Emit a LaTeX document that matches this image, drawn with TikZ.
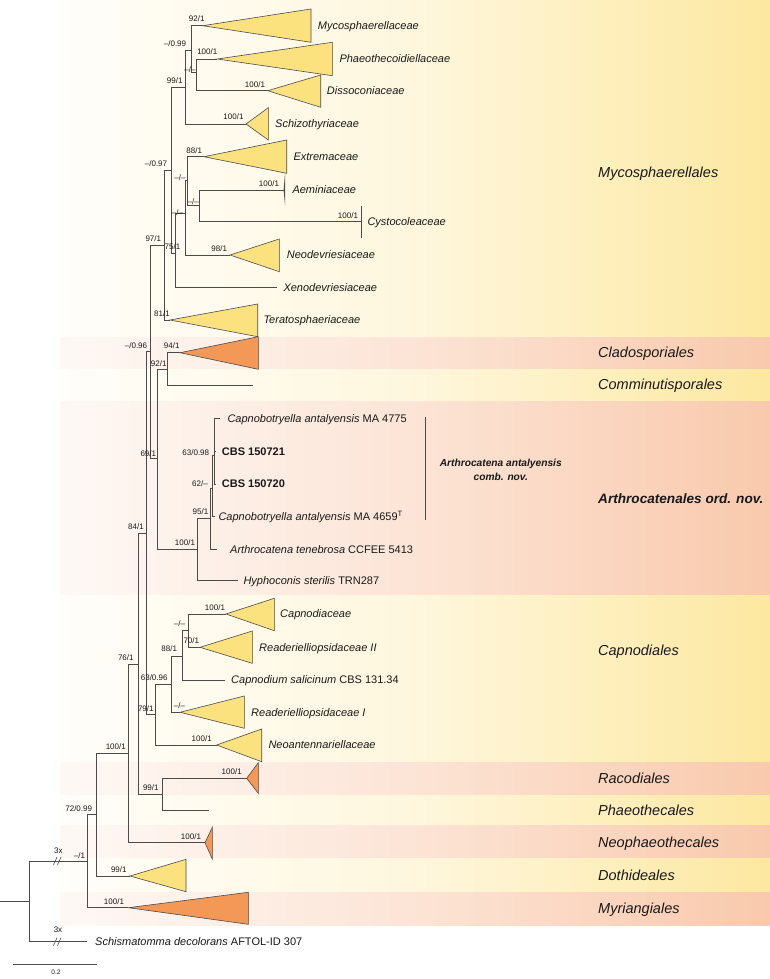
\documentclass[tikz,border=0pt]{standalone}
\usepackage{fontspec}
\setmainfont{Liberation Sans}
\definecolor{yel}{RGB}{253,232,160}
\definecolor{sal}{RGB}{249,201,172}
\definecolor{tyel}{RGB}{252,226,126}
\definecolor{torg}{RGB}{244,152,88}
\definecolor{ln}{RGB}{75,75,75}
\definecolor{txt}{RGB}{25,25,25}
\begin{document}
\begin{tikzpicture}[x=1pt,y=-1pt,
 br/.style={draw=ln, line width=0.8pt},
 ytri/.style={draw=ln, line width=0.6pt, fill=tyel, line join=miter},
 otri/.style={draw=ln, line width=0.6pt, fill=torg, line join=miter},
 leaf/.style={anchor=west, inner sep=0pt, text=txt, font=\fontsize{11}{13}\selectfont, text height=7.9pt, text depth=0pt},
 sup/.style={inner sep=0pt, text=txt, font=\fontsize{8}{9}\selectfont, text height=5.8pt, text depth=0pt},
 ord/.style={anchor=west, inner sep=0pt, text=txt, font=\fontsize{14.5}{16}\selectfont\itshape, text height=10.4pt, text depth=0pt},
 yband/.style={left color=yel!6, right color=yel, middle color=yel!35},
 sband/.style={left color=sal!12, right color=sal, middle color=sal!50}]
\useasboundingbox (0,0) rectangle (770,979);
\fill[white] (0,0) rectangle (770,979);
% background bands
\shade[yband] (60,0) rectangle (770,337);
\shade[sband] (60,337) rectangle (770,369);
\shade[yband] (60,369) rectangle (770,401);
\shade[sband] (60,401) rectangle (770,595);
\shade[yband] (60,595) rectangle (770,762);
\shade[sband] (60,762) rectangle (770,795);
\shade[yband] (60,795) rectangle (770,825);
\shade[sband] (60,825) rectangle (770,858);
\shade[yband] (60,858) rectangle (770,892);
\shade[sband] (60,892) rectangle (770,925);

% tree node coordinates (x of node, y where its stem attaches)
\coordinate (root0) at (0,901);
\coordinate (root) at (29.3,901);
\coordinate (nm1) at (87.7,861);
\coordinate (schis) at (87.3,941.7);
\coordinate (n72) at (96.7,814.3);
\coordinate (myri) at (128.3,907.7);
\coordinate (n100b) at (128.3,753.3);
\coordinate (doth) at (130,876);
\coordinate (n76) at (138,664.3);
\coordinate (neoph) at (205,842.7);
\coordinate (n84) at (146.7,533.3);
\coordinate (n99b) at (162.5,794.3);
\coordinate (racod) at (246.7,778.3);
\coordinate (phaeoth) at (209.3,810);
\coordinate (n096) at (150.7,351.7);
\coordinate (n79) at (155,714.3);
\coordinate (n63b) at (171,684);
\coordinate (neoant) at (216.7,745);
\coordinate (n88b) at (182.7,656);
\coordinate (readI) at (180,712.3);
\coordinate (ncap) at (188.3,630.7);
\coordinate (capsal) at (225,680);
\coordinate (capnod) at (226,614);
\coordinate (readII) at (200,647.3);
\coordinate (n97) at (164.3,245.7);
\coordinate (n69) at (157.5,458.3);
\coordinate (n92) at (167.7,369.3);
\coordinate (n100a) at (197.7,549.3);
\coordinate (clado) at (180,352.7);
\coordinate (commin) at (252.7,385);
\coordinate (n95) at (210.5,518.3);
\coordinate (hypho) at (238.3,580.7);
\coordinate (n62) at (212,488);
\coordinate (atene) at (217.3,549.3);
\coordinate (n63a) at (214,455);
\coordinate (ma4659) at (215,516.7);
\coordinate (ma4775) at (220,418.3);
\coordinate (cbsa) at (216,451.7);
\coordinate (cbsb) at (216,484);
\coordinate (n097) at (171,170);
\coordinate (terato) at (170,320);
\coordinate (n99a) at (185,87);
\coordinate (n75) at (175.7,253);
\coordinate (n099) at (191.7,50.7);
\coordinate (schizo) at (246,124);
\coordinate (myco) at (202.7,25.7);
\coordinate (npd) at (196,72);
\coordinate (phaeo) at (217.3,59);
\coordinate (disso) at (267.7,90.7);
\coordinate (nen) at (185,213.3);
\coordinate (xeno) at (276.7,287.7);
\coordinate (ne) at (187.3,180);
\coordinate (neodev) at (230,255);
\coordinate (extrem) at (204,156.7);
\coordinate (nac) at (199.3,205);
\coordinate (aemin) at (284.3,190);
\coordinate (cysto) at (361,221.7);

% branches
\draw[br] (root0) -- (root);
\draw[br] (root) |- (nm1);
\draw[br] (root) |- (schis);
\draw[br] (nm1) |- (n72);
\draw[br] (nm1) |- (myri);
\draw[br] (n72) |- (n100b);
\draw[br] (n72) |- (doth);
\draw[br] (n100b) |- (n76);
\draw[br] (n100b) |- (neoph);
\draw[br] (n76) |- (n84);
\draw[br] (n76) |- (n99b);
\draw[br] (n99b) |- (racod);
\draw[br] (n99b) |- (phaeoth);
\draw[br] (n84) |- (n096);
\draw[br] (n84) |- (n79);
\draw[br] (n79) |- (n63b);
\draw[br] (n79) |- (neoant);
\draw[br] (n63b) |- (n88b);
\draw[br] (n63b) |- (readI);
\draw[br] (n88b) |- (ncap);
\draw[br] (n88b) |- (capsal);
\draw[br] (ncap) |- (capnod);
\draw[br] (ncap) |- (readII);
\draw[br] (n096) |- (n97);
\draw[br] (n096) |- (n69);
\draw[br] (n69) |- (n92);
\draw[br] (n69) |- (n100a);
\draw[br] (n92) |- (clado);
\draw[br] (n92) |- (commin);
\draw[br] (n100a) |- (n95);
\draw[br] (n100a) |- (hypho);
\draw[br] (n95) |- (n62);
\draw[br] (n95) |- (atene);
\draw[br] (n62) |- (n63a);
\draw[br] (n62) |- (ma4659);
\draw[br] (n63a) |- (ma4775);
\draw[br] (n63a) |- (cbsa);
\draw[br] (n63a) |- (cbsb);
\draw[br] (n97) |- (n097);
\draw[br] (n97) |- (terato);
\draw[br] (n097) |- (n99a);
\draw[br] (n097) |- (n75);
\draw[br] (n99a) |- (n099);
\draw[br] (n99a) |- (schizo);
\draw[br] (n099) |- (myco);
\draw[br] (n099) |- (npd);
\draw[br] (npd) |- (phaeo);
\draw[br] (npd) |- (disso);
\draw[br] (n75) |- (nen);
\draw[br] (n75) |- (xeno);
\draw[br] (nen) |- (ne);
\draw[br] (nen) |- (neodev);
\draw[br] (ne) |- (extrem);
\draw[br] (ne) |- (nac);
\draw[br] (nac) |- (aemin);
\draw[br] (nac) |- (cysto);

% collapsed clades
\draw[ytri] (myco) -- (311,9) -- (311,42.3) -- cycle;
\draw[ytri] (phaeo) -- (332.3,42.3) -- (332.3,75.7) -- cycle;
\draw[ytri] (disso) -- (320.7,75) -- (320.7,107.3) -- cycle;
\draw[ytri] (schizo) -- (268.3,107.7) -- (268.3,140) -- cycle;
\draw[ytri] (extrem) -- (286.7,140) -- (286.7,173.3) -- cycle;
\draw[ytri] (neodev) -- (279.3,239) -- (279.3,271.7) -- cycle;
\draw[ytri] (terato) -- (257.7,304) -- (257.7,336.7) -- cycle;
\draw[otri] (clado) -- (258.3,336.7) -- (258.3,369.3) -- cycle;
\draw[ytri] (capnod) -- (274.3,598.3) -- (274.3,630.7) -- cycle;
\draw[ytri] (readII) -- (252.3,631) -- (252.3,663.3) -- cycle;
\draw[ytri] (readI) -- (244.3,696) -- (244.3,728.3) -- cycle;
\draw[ytri] (neoant) -- (261.7,729) -- (261.7,761.7) -- cycle;
\draw[otri] (racod) -- (258.3,762.7) -- (258.3,793.3) -- cycle;
\draw[otri] (neoph) -- (212.3,827.3) -- (212.3,859) -- cycle;
\draw[ytri] (doth) -- (186,859.3) -- (186,891.7) -- cycle;
\draw[otri] (myri) -- (248.3,892.3) -- (248.3,924.3) -- cycle;
\fill[ln] (283.6,190) -- (285,173.3) -- (285,205) -- cycle;
\draw[br] (361,205.7) -- (361,238.3);

% long-branch marks
\draw[br, line width=0.6pt] (53.5,865) -- (57,857);
\draw[br, line width=0.6pt] (57.5,865) -- (61,857);
\draw[br, line width=0.6pt] (53.5,945.7) -- (57,937.7);
\draw[br, line width=0.6pt] (57.5,945.7) -- (61,937.7);

% scale bar
\coordinate (sb0) at (13.3,964);
\coordinate (sb1) at (97.3,964);
\draw[br] (sb0) -- (sb1);
\node[inner sep=0pt, text=txt, font=\fontsize{6.5}{7}\selectfont] (sbl) at (56,972.7) {0.2};

% Arthrocatena antalyensis bar
\coordinate (bar0) at (425,417.3);
\coordinate (bar1) at (425,520);
\draw[br] (bar0) -- (bar1);
\node[inner sep=0pt, text=txt, align=center, font=\fontsize{10.2}{14.3}\selectfont\bfseries\itshape] (aacn) at (500.8,469.5) {Arthrocatena antalyensis\\comb. nov.};

% leaf labels
\node[leaf] (lmyco) at (317.7,25.7) {\itshape Mycosphaerellaceae};
\node[leaf] (lphaeo) at (339.3,59) {\itshape Phaeothecoidiellaceae};
\node[leaf] (ldisso) at (326.7,90.7) {\itshape Dissoconiaceae};
\node[leaf] (lschizo) at (275,124) {\itshape Schizothyriaceae};
\node[leaf] (lextrem) at (293.3,156.7) {\itshape Extremaceae};
\node[leaf] (laemin) at (292.3,190) {\itshape Aeminiaceae};
\node[leaf] (lcysto) at (367.3,221.7) {\itshape Cystocoleaceae};
\node[leaf] (lneodev) at (286.7,255) {\itshape Neodevriesiaceae};
\node[leaf] (lxeno) at (283.3,287.7) {\itshape Xenodevriesiaceae};
\node[leaf] (lterato) at (263.3,320) {\itshape Teratosphaeriaceae};
\node[leaf] (lma4775) at (227.3,418.3) {{\itshape Capnobotryella antalyensis} MA 4775};
\node[leaf, font=\fontsize{11}{13}\selectfont\bfseries] (lcbsa) at (221.7,451.7) {CBS 150721};
\node[leaf, font=\fontsize{11}{13}\selectfont\bfseries] (lcbsb) at (221.7,484) {CBS 150720};
\node[leaf] (lma4659) at (218.3,516.7) {{\itshape Capnobotryella antalyensis} MA 4659\textsuperscript{T}};
\node[leaf] (latene) at (230,549.3) {{\itshape Arthrocatena tenebrosa} CCFEE 5413};
\node[leaf] (lhypho) at (243.3,580.7) {{\itshape Hyphoconis sterilis} TRN287};
\node[leaf] (lcapnod) at (280,614) {\itshape Capnodiaceae};
\node[leaf] (lreadII) at (259,647.3) {\itshape Readerielliopsidaceae II};
\node[leaf] (lcapsal) at (231,680) {{\itshape Capnodium salicinum} CBS 131.34};
\node[leaf] (lreadI) at (251,712.3) {\itshape Readerielliopsidaceae I};
\node[leaf] (lneoant) at (268.3,745) {\itshape Neoantennariellaceae};
\node[leaf] (lschis) at (95,941.7) {{\itshape Schismatomma decolorans} AFTOL-ID 307};

% order labels
\node[ord] (omyco) at (598,172.3) {Mycosphaerellales};
\node[ord] (oclado) at (598,352.7) {Cladosporiales};
\node[ord] (ocommin) at (598,384.3) {Comminutisporales};
\node[ord, font=\fontsize{13.6}{16}\selectfont\bfseries\itshape] (oarthro) at (598,498.3) {Arthrocatenales ord. nov.};
\node[ord] (ocapnod) at (598,650) {Capnodiales};
\node[ord] (oracod) at (598,778.3) {Racodiales};
\node[ord] (ophaeoth) at (598,810) {Phaeothecales};
\node[ord] (oneoph) at (598,842.7) {Neophaeothecales};
\node[ord] (odoth) at (598,875.5) {Dothideales};
\node[ord] (omyri) at (598,908) {Myriangiales};

% support values
\node[sup] (s1) at (196.7,19) {92/1};
\node[sup] (s2) at (175,44) {–/0.99};
\node[sup] (s3) at (207.3,52) {100/1};
\node[sup] (s4) at (190,69.5) {–/–};
\node[sup] (s5) at (174.7,81) {99/1};
\node[sup] (s6) at (255,85) {100/1};
\node[sup] (s7) at (233.5,117) {100/1};
\node[sup] (s8) at (194.2,150.7) {88/1};
\node[sup] (s9) at (156,164) {–/0.97};
\node[sup] (s10) at (180,177.3) {–/–};
\node[sup] (s11) at (269,184) {100/1};
\node[sup] (s12) at (193.3,201.7) {–/–};
\node[sup] (s13) at (177.5,212.7) {–/–};
\node[sup] (s14) at (348,216) {100/1};
\node[sup] (s15) at (153.3,239) {97/1};
\node[sup] (s16) at (172.5,246.7) {75/1};
\node[sup] (s17) at (219.2,249) {98/1};
\node[sup] (s18) at (162,313.7) {81/1};
\node[sup] (s19) at (136,346) {–/0.96};
\node[sup] (s20) at (171.7,346) {94/1};
\node[sup] (s21) at (158.7,363.3) {92/1};
\node[sup] (s22) at (148.3,453.7) {69/1};
\node[sup] (s23) at (195.8,453) {63/0.98};
\node[sup] (s24) at (200,483.3) {62/–};
\node[sup] (s25) at (200.5,511.7) {95/1};
\node[sup] (s26) at (136,526.7) {84/1};
\node[sup] (s27) at (185,542.7) {100/1};
\node[sup] (s28) at (215,607.7) {100/1};
\node[sup] (s29) at (179.5,624) {–/–};
\node[sup] (s30) at (191.3,641) {70/1};
\node[sup] (s31) at (169.2,649) {88/1};
\node[sup] (s32) at (125.8,657.8) {76/1};
\node[sup] (s33) at (154.2,677.3) {63/0.96};
\node[sup] (s34) at (179.5,706) {–/–};
\node[sup] (s35) at (145.8,708.3) {79/1};
\node[sup] (s36) at (201.7,739) {100/1};
\node[sup] (s37) at (115.8,746.7) {100/1};
\node[sup] (s38) at (231.7,771.7) {100/1};
\node[sup] (s39) at (150.8,787.8) {99/1};
\node[sup] (s40) at (78.7,808.3) {72/0.99};
\node[sup] (s41) at (191,836.7) {100/1};
\node[sup] (s42) at (58.3,850.7) {3x};
\node[sup] (s43) at (79.5,856) {–/1};
\node[sup] (s44) at (118.8,870) {99/1};
\node[sup] (s45) at (114,901.7) {100/1};
\node[sup] (s46) at (58,930) {3x};
\end{tikzpicture}
\end{document}
